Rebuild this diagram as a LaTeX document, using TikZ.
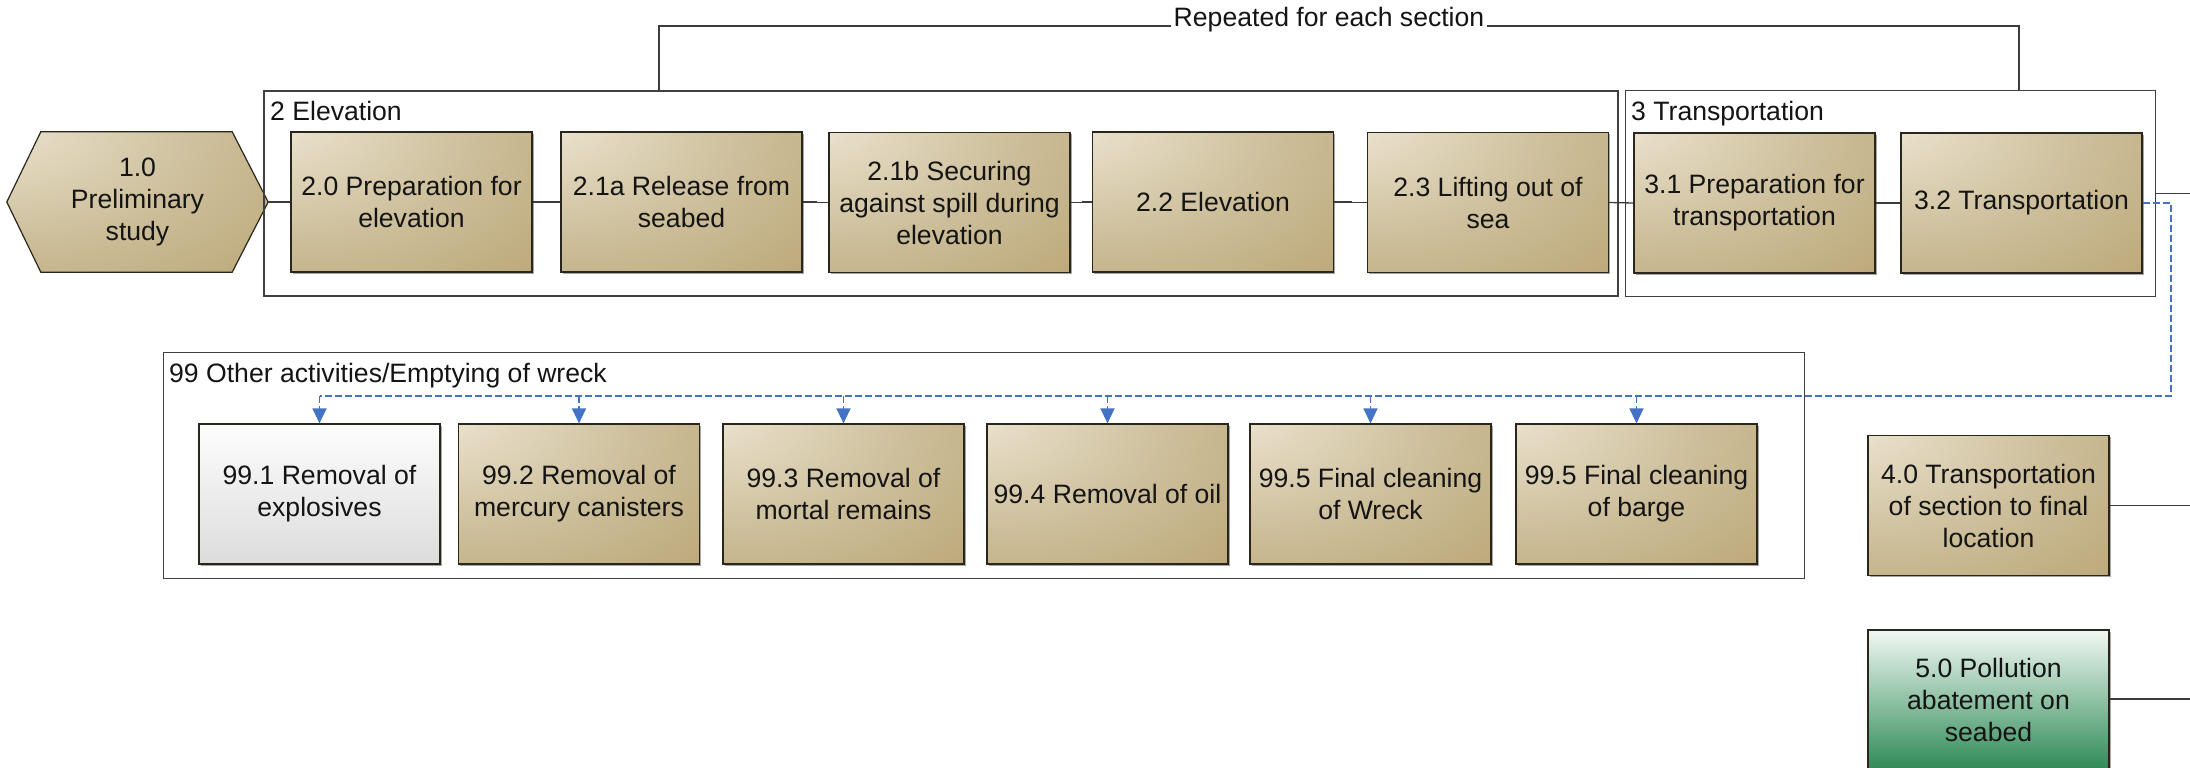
\documentclass[tikz,border=0pt]{standalone}
\usepackage{fontspec}
\setmainfont{Liberation Sans}
\usetikzlibrary{arrows.meta,backgrounds,shadows}

% colours
\definecolor{tanA}{HTML}{F7F3EA}
\definecolor{tanB}{HTML}{E6DCC5}
\definecolor{tanC}{HTML}{CDBF9B}
\definecolor{tanD}{HTML}{BBA777}
\definecolor{tanE}{HTML}{B09A67}
\definecolor{boxline}{HTML}{2B261C}
\definecolor{grpline}{HTML}{404040}
\definecolor{connline}{HTML}{3C3C3C}
\definecolor{flowblue}{HTML}{4472C4}
\definecolor{greenTop}{HTML}{F1F8F3}
\definecolor{greenBot}{HTML}{2E8A56}
\definecolor{greyTop}{HTML}{FDFDFD}
\definecolor{greyBot}{HTML}{DCDCDC}

% tan process boxes: light spot at the upper left, darker towards right and bottom
\pgfdeclareradialshading{tanshade}{\pgfpoint{-34bp}{34bp}}{%
  color(0bp)=(tanA); color(12bp)=(tanB); color(36bp)=(tanC);
  color(62bp)=(tanD); color(118bp)=(tanE)}

\begin{document}
\begin{tikzpicture}[x=1pt,y=-1pt,
  every node/.style={font=\fontsize{26.6}{32}\selectfont, text=black!92},
  taskbox/.style={rectangle, draw=boxline, line width=1.2pt,
    minimum width=241pt, minimum height=140pt, inner sep=0pt, align=center,
    shading=tanshade,
    drop shadow={shadow xshift=1.5pt, shadow yshift=-1.5pt, fill=black, opacity=.35}},
  greybox/.style={taskbox, shading=axis, top color=greyTop, bottom color=greyBot},
  greenbox/.style={taskbox, shading=axis, top color=greenTop, bottom color=greenBot},
  hexlabel/.style={rectangle, minimum width=261pt, minimum height=140pt,
    inner sep=0pt, align=center},
  group/.style={rectangle, draw=grpline, line width=1.3pt, inner sep=0pt},
  grouplabel/.style={anchor=base west, inner sep=0pt},
  conn/.style={draw=connline, line width=1.3pt},
  flow/.style={draw=flowblue, line width=1.4pt, dash pattern=on 7pt off 3pt},
  flowtip/.style={flow, -{Triangle[width=14pt,length=15pt]}}
]
\useasboundingbox (0,0) rectangle (2190,768);
\clip (0,0) rectangle (2190,768);

% ---- group frames ----
\node[group, minimum width=1354pt, minimum height=205pt] (elev) at (941,193.5) {};
\node[group, minimum width=530pt, minimum height=206pt] (trans) at (1890.5,193.5) {};
\node[group, minimum width=1641pt, minimum height=226pt] (other) at (984,465.5) {};
\node[grouplabel] (elevlbl) at (270,120) {2 Elevation};
\node[grouplabel] (translbl) at (1631,120) {3 Transportation};
\node[grouplabel] (otherlbl) at (169,382) {99 Other activities/Emptying of wreck};

% ---- bracket over the repeated part ----
\node[anchor=base, inner xsep=3pt, inner ysep=0pt] (rep) at (1329,27) {Repeated for each section};
\coordinate (rl) at (659,26);
\coordinate (rr) at (2019,26);
\draw[conn] (rl |- elev.north) -- (rl) -- (rl -| rep.west);
\draw[conn] (rr |- trans.north) -- (rr) -- (rr -| rep.east);

% ---- preliminary study (hexagon) ----
\node[hexlabel] (pre) at (137.5,202) {1.0\\Preliminary\\study};
\begin{scope}[on background layer]
  \path[draw=boxline, line width=1.2pt, shading=tanshade]
    (pre.west) -- ([xshift=34pt]pre.north west) -- ([xshift=-36pt]pre.north east)
    -- (pre.east) -- ([xshift=-36pt]pre.south east) -- ([xshift=34pt]pre.south west) -- cycle;
\end{scope}

% ---- main chain ----
\node[taskbox] (b20)  at (411.5,202)  {2.0 Preparation for\\elevation};
\node[taskbox] (b21a) at (681.5,202)  {2.1a Release from\\seabed};
\node[taskbox] (b21b) at (949.5,202.5){2.1b Securing\\against spill during\\elevation};
\node[taskbox] (b22)  at (1213,202)   {2.2 Elevation};
\node[taskbox] (b23)  at (1488,202.5) {2.3 Lifting out of\\sea};
\node[taskbox] (b31)  at (1754.5,203) {3.1 Preparation for\\transportation};
\node[taskbox] (b32)  at (2021.5,203) {3.2 Transportation};
\node[taskbox] (b40)  at (1988.5,505.5) {4.0 Transportation\\of section to final\\location};
\node[greenbox] (b50) at (1988.5,700) {5.0 Pollution\\abatement on\\seabed};

% ---- emptying of wreck ----
\node[greybox] (b991)  at (319.5,494)  {99.1 Removal of\\explosives};
\node[taskbox] (b992)  at (579,494)    {99.2 Removal of\\mercury canisters};
\node[taskbox] (b993)  at (843.5,494)  {99.3 Removal of\\mortal remains};
\node[taskbox] (b994)  at (1107.5,494) {99.4 Removal of oil};
\node[taskbox] (b995a) at (1370.5,494) {99.5 Final cleaning\\of Wreck};
\node[taskbox] (b995b) at (1636.5,494) {99.5 Final cleaning\\of barge};

% ---- solid connectors ----
\draw[conn] (pre.east) -- (b20.west);
\draw[conn] (b20.east) -- (b21a.west);
\draw[conn] (b21a.east) -- ++(14,0) |- (b21b.west);
\draw[conn] (b21b.east) -- ++(12,0) |- (b22.west);
\draw[conn] (b22.east) -- ++(17,0) |- (b23.west);
\draw[conn] (b23.east) -- (b31.west);
\draw[conn] (b31.east) -- (b32.west);
\coordinate (outA) at (2195,193.5);
\coordinate (outB) at (2195,505.5);
\coordinate (outC) at (2195,699);
\draw[conn] (trans.east) -- (outA);
\draw[conn] (b40.east) -- (outB);
\draw[conn] (b50.east |- outC) -- (outC);

% ---- dashed flow to the emptying activities ----
\coordinate (bus) at (2171,396);
\draw[flow] (b32.east) -| (bus) -- (bus -| b991.north);
\foreach \b in {b991,b992,b993,b994,b995a,b995b}
  \draw[flowtip] (bus -| \b.north) -- (\b.north);
\end{tikzpicture}
\end{document}
